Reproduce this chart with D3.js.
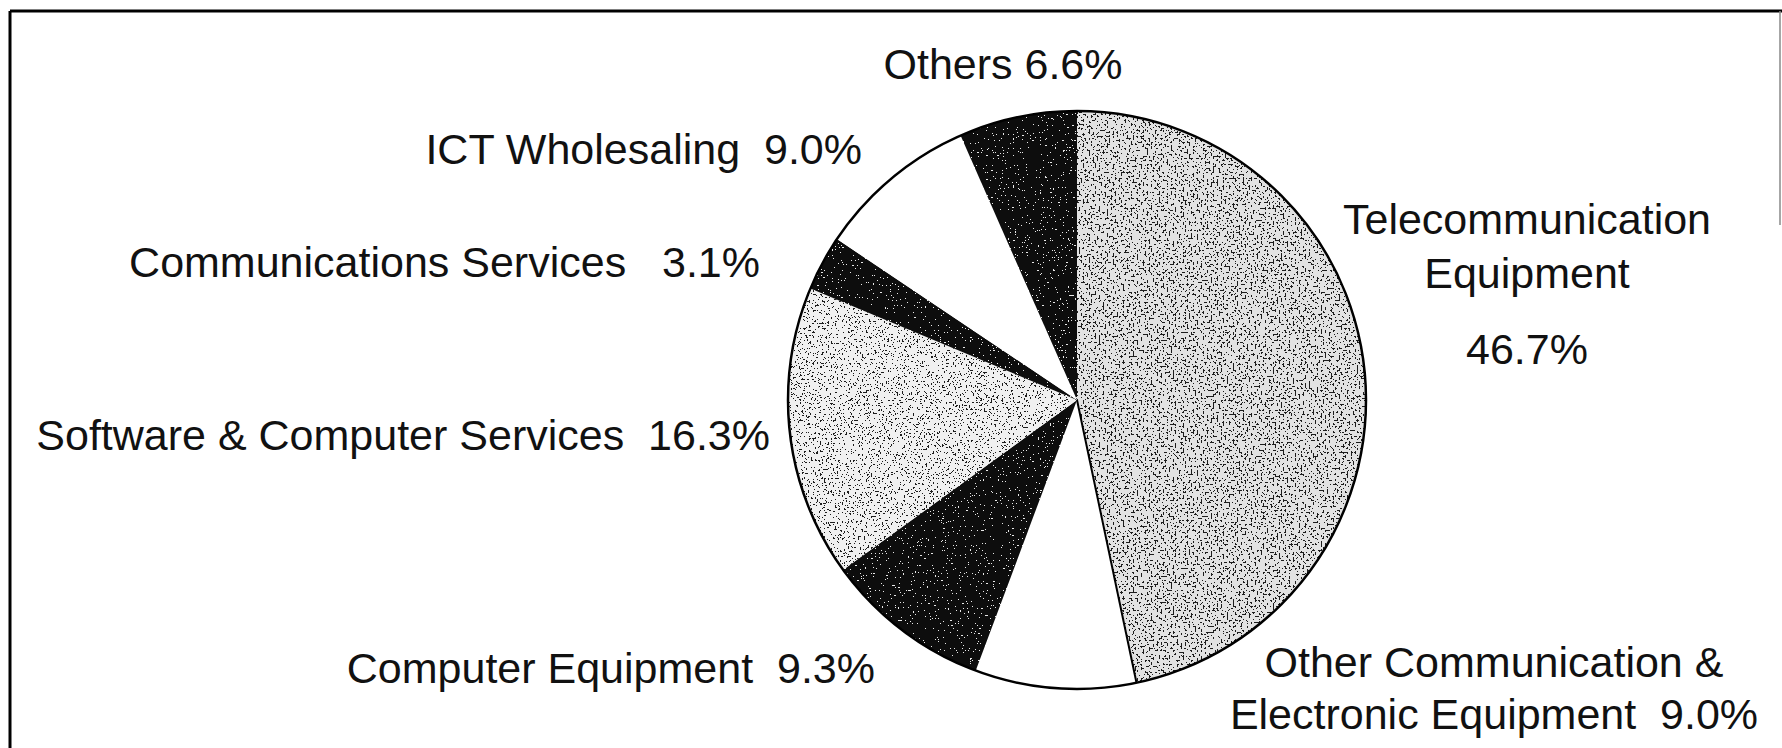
<!DOCTYPE html>
<html>
<head>
<meta charset="utf-8">
<script src="https://cdn.jsdelivr.net/npm/d3@7/dist/d3.min.js"></script>
<style>
  html, body { margin: 0; padding: 0; background: #fff; }
  svg { display: block; }
  text { font-family: "Liberation Sans", Arial, sans-serif; white-space: pre; }
</style>
</head>
<body>
<svg id="chart" width="1782" height="748"></svg>
<script>
// ---- data (clockwise from 12 o'clock) ----
const categories = [
  "Telecommunication Equipment",
  "Other Communication & Electronic Equipment",
  "Computer Equipment",
  "Software & Computer Services",
  "Communications Services",
  "ICT Wholesaling",
  "Others"
];
const shares = [46.7, 9.0, 9.3, 16.3, 3.1, 9.0, 6.6];
// how each label is broken into lines ("{v}" is filled from the value)
const labelTemplates = [
  ["Telecommunication", "Equipment", "{v}"],
  ["Other Communication &", "Electronic Equipment  {v}"],
  ["Computer Equipment  {v}"],
  ["Software & Computer Services  {v}"],
  ["Communications Services   {v}"],
  ["ICT Wholesaling  {v}"],
  ["Others {v}"]
];

// ---- presentation ----
const fillKind = ["tele", "white", "dark", "soft", "dark", "white", "dark"];
const labelLayout = [
  { x: 1527, ys: [234, 288, 364], anchor: "middle" },
  { x: 1494, ys: [677, 729], anchor: "middle" },
  { x: 875,  ys: [683], anchor: "end" },
  { x: 770,  ys: [450], anchor: "end" },
  { x: 760,  ys: [277], anchor: "end" },
  { x: 862,  ys: [164], anchor: "end" },
  { x: 1003, ys: [79],  anchor: "middle" }
];

const W = 1782, H = 748;
const cx = 1077, cy = 400, R = 289;

const svg = d3.select("#chart");
const defs = svg.append("defs");

// speckle textures (scanned halftone look)
function speckle(id, bg, fg, freq, cut, seed, oct) {
  const f = defs.append("filter").attr("id", "f_" + id)
    .attr("filterUnits", "userSpaceOnUse")
    .attr("x", 0).attr("y", 0).attr("width", W).attr("height", H);
  f.append("feTurbulence").attr("type", "fractalNoise")
    .attr("baseFrequency", freq).attr("numOctaves", oct).attr("seed", seed).attr("result", "n");
  f.append("feColorMatrix").attr("in", "n").attr("type", "matrix")
    .attr("values", "0 0 0 0 0  0 0 0 0 0  0 0 0 0 0  1 0 0 0 0").attr("result", "a");
  const n = 50, k = Math.round(cut * n);
  const tv = d3.range(n).map(i => i >= k ? 1 : 0).join(" ");
  f.append("feComponentTransfer").attr("in", "a").attr("result", "t")
    .append("feFuncA").attr("type", "discrete").attr("tableValues", tv);
  f.append("feFlood").attr("flood-color", fg).attr("result", "c");
  f.append("feComposite").attr("in", "c").attr("in2", "t").attr("operator", "in").attr("result", "sp");
  f.append("feFlood").attr("flood-color", bg).attr("result", "b");
  f.append("feComposite").attr("in", "sp").attr("in2", "b").attr("operator", "over");
  const p = defs.append("pattern").attr("id", "p_" + id)
    .attr("patternUnits", "userSpaceOnUse")
    .attr("x", 0).attr("y", 0).attr("width", W).attr("height", H);
  p.append("rect").attr("width", W).attr("height", H).attr("fill", bg)
    .attr("filter", `url(#f_${id})`);
}
speckle("tele", "#e2e2e2", "#1a1a1a", 0.5, 0.60, 4, 2);
speckle("soft", "#f0f0f0", "#1a1a1a", 0.55, 0.64, 7, 2);
speckle("dark", "#111111", "#e8e8e8", 0.6, 0.72, 11, 2);
const fills = { tele: "url(#p_tele)", soft: "url(#p_soft)", dark: "url(#p_dark)", white: "#ffffff" };

// frame (scanned page border)
svg.append("line").attr("x1", 10).attr("y1", 11).attr("x2", W).attr("y2", 11)
  .attr("stroke", "#000").attr("stroke-width", 3);
svg.append("line").attr("x1", 10).attr("y1", 11).attr("x2", 10).attr("y2", H)
  .attr("stroke", "#000").attr("stroke-width", 3);
svg.append("line").attr("x1", 1780).attr("y1", 11).attr("x2", 1780).attr("y2", 225)
  .attr("stroke", "#888").attr("stroke-width", 1.5);

// pie
const data = categories.map((c, i) => ({ name: c, value: shares[i], i }));
const pie = d3.pie().sort(null).value(d => d.value).startAngle(0).endAngle(2 * Math.PI);
const arc = d3.arc().innerRadius(0).outerRadius(R);

const g = svg.append("g").attr("transform", `translate(${cx},${cy})`);
g.selectAll("path.slice")
  .data(pie(data))
  .join("path")
  .attr("class", "slice")
  .attr("d", arc)
  .attr("fill", d => fills[fillKind[d.data.i]])
  .attr("stroke", "none");

// outline
g.append("circle").attr("r", R).attr("fill", "none").attr("stroke", "#000").attr("stroke-width", 2.5);
// boundary line between the two big right-hand slices
g.selectAll("line.edge")
  .data(pie(data).filter(d => d.index === 1))
  .join("line")
  .attr("class", "edge")
  .attr("x1", 0).attr("y1", 0)
  .attr("x2", d => R * Math.sin(d.startAngle))
  .attr("y2", d => -R * Math.cos(d.startAngle))
  .attr("stroke", "#000").attr("stroke-width", 2);

// labels
const fmt = v => v.toFixed(1) + "%";
const lbl = svg.append("g").attr("font-size", 43).attr("fill", "#111");
data.forEach((d, i) => {
  const L = labelLayout[i];
  labelTemplates[i].forEach((t, j) => {
    lbl.append("text")
      .attr("x", L.x).attr("y", L.ys[j])
      .attr("text-anchor", L.anchor)
      .attr("xml:space", "preserve")
      .text(t.replace("{v}", fmt(d.value)));
  });
});
</script>
</body>
</html>
